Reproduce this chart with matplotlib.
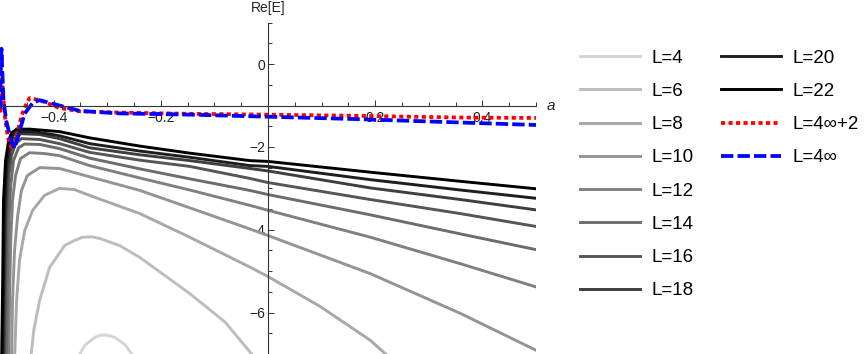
#Recreation of the Re[E] vs a chart for several L values.

#importing all libraries which will be used.
import matplotlib
matplotlib.use("Agg")
import matplotlib.pyplot as plt
from matplotlib.ticker import FixedLocator, MultipleLocator

plt.rcParams['font.family'] = ['Liberation Sans', 'DejaVu Sans']

#Values (a on the x axis, Re[E] on the y axis).
a_L4 = [-0.355, -0.342, -0.323, -0.314, -0.305, -0.295, -0.286, -0.267, -0.249]
E_L4 = [-7.10, -6.79, -6.60, -6.55, -6.54, -6.56, -6.60, -6.77, -7.10]

a_L6 = [-0.443, -0.437, -0.426, -0.4075, -0.3794, -0.361, -0.346, -0.329, -0.314, -0.277, -0.239, -0.146, -0.080, -0.024]
E_L6 = [-7.15, -6.43, -5.70, -4.91, -4.38, -4.26, -4.18, -4.17, -4.21, -4.38, -4.67, -5.54, -6.23, -7.10]

a_L8 = [-0.4729, -0.469, -0.4636, -0.454, -0.439, -0.417, -0.389, -0.361, -0.333, -0.239, -0.146, -0.034, 0.0, 0.097, 0.191, 0.228]
E_L8 = [-7.15, -5.70, -4.74, -4.02, -3.53, -3.17, -3.00, -3.03, -3.17, -3.61, -4.18, -4.90, -5.13, -5.85, -6.67, -7.10]

a_L10 = [-0.4785, -0.4766, -0.4729, -0.467, -0.460, -0.449, -0.426, -0.389, -0.333, -0.239, -0.146, -0.034, 0.0, 0.191, 0.359, 0.5]
E_L10 = [-7.15, -5.70, -4.50, -3.66, -3.05, -2.69, -2.50, -2.52, -2.72, -3.05, -3.47, -3.98, -4.14, -5.06, -6.02, -6.91]

a_L12 = [-0.484, -0.482, -0.480, -0.4766, -0.471, -0.4617, -0.445, -0.417, -0.389, -0.333, -0.239, -0.146, -0.034, 0.0, 0.191, 0.359, 0.5]
E_L12 = [-7.15, -5.46, -4.26, -3.29, -2.69, -2.28, -2.14, -2.16, -2.21, -2.45, -2.75, -3.04, -3.41, -3.53, -4.18, -4.82, -5.38]

a_L14 = [-0.4879, -0.486, -0.484, -0.480, -0.4748, -0.4654, -0.454, -0.426, -0.389, -0.333, -0.239, -0.146, -0.034, 0.0, 0.191, 0.359, 0.5]
E_L14 = [-7.15, -5.22, -3.90, -2.93, -2.33, -2.02, -1.93, -1.94, -2.04, -2.27, -2.53, -2.77, -3.05, -3.15, -3.64, -4.10, -4.48]

a_L16 = [-0.4916, -0.4897, -0.4879, -0.484, -0.4785, -0.471, -0.460, -0.426, -0.389, -0.333, -0.239, -0.146, -0.034, 0.0, 0.191, 0.359, 0.5]
E_L16 = [-7.15, -5.22, -3.78, -2.76, -2.21, -1.92, -1.80, -1.82, -1.92, -2.13, -2.32, -2.47, -2.76, -2.86, -3.27, -3.61, -3.92]

a_L18 = [-0.4935, -0.4916, -0.4897, -0.486, -0.480, -0.4729, -0.4617, -0.426, -0.389, -0.333, -0.239, -0.146, -0.034, 0.0, 0.191, 0.359, 0.5]
E_L18 = [-7.15, -5.22, -3.66, -2.57, -2.04, -1.80, -1.68, -1.70, -1.80, -2.02, -2.19, -2.33, -2.52, -2.58, -2.99, -3.27, -3.52]

a_L20 = [-0.495, -0.4935, -0.4916, -0.4879, -0.482, -0.4748, -0.4654, -0.4355, -0.389, -0.333, -0.239, -0.146, -0.034, 0.0, 0.191, 0.359, 0.5]
E_L20 = [-7.15, -5.22, -3.53, -2.45, -1.92, -1.70, -1.63, -1.63, -1.73, -1.92, -2.10, -2.25, -2.45, -2.47, -2.79, -3.04, -3.24]

a_L22 = [-0.497, -0.495, -0.4935, -0.4897, -0.484, -0.4785, -0.469, -0.445, -0.389, -0.333, -0.239, -0.146, -0.034, 0.0, 0.191, 0.359, 0.5]
E_L22 = [-7.15, -5.22, -3.29, -2.33, -1.85, -1.66, -1.57, -1.57, -1.63, -1.78, -1.98, -2.15, -2.33, -2.35, -2.61, -2.83, -3.01]

a_inf2 = [-0.5, -0.4981, -0.4966, -0.4953, -0.4916, -0.4854, -0.4791, -0.4729, -0.4667, -0.4598, -0.4542, -0.4449, -0.426, -0.389, -0.351, -0.277, -0.146, 0.0, 0.172, 0.359, 0.5]
E_inf2 = [-1.17, -0.52, -0.21, -0.52, -1.20, -1.77, -2.01, -1.90, -1.61, -1.25, -1.05, -0.82, -0.87, -1.06, -1.14, -1.17, -1.20, -1.22, -1.25, -1.29, -1.30]

a_inf = [-0.5, -0.4985, -0.4972, -0.4957, -0.4935, -0.4884, -0.4791, -0.4729, -0.4667, -0.4542, -0.4387, -0.426, -0.389, -0.351, -0.277, -0.146, 0.0, 0.172, 0.359, 0.5]
E_inf = [-1.08, -0.16, 0.37, -0.16, -0.88, -1.37, -1.85, -2.04, -1.77, -1.20, -0.93, -0.87, -1.00, -1.13, -1.19, -1.22, -1.27, -1.33, -1.41, -1.47]

labels = ["L=4", "L=6", "L=8", "L=10", "L=12", "L=14", "L=16", "L=18", "L=20", "L=22"]
grays = ["#d4d4d4", "#bdbdbd", "#a8a8a8", "#949494", "#808080", "#6c6c6c", "#565656", "#3e3e3e", "#1e1e1e", "#000000"]
a_list = [a_L4, a_L6, a_L8, a_L10, a_L12, a_L14, a_L16, a_L18, a_L20, a_L22]
E_list = [E_L4, E_L6, E_L8, E_L10, E_L12, E_L14, E_L16, E_L18, E_L20, E_L22]

fig = plt.figure(figsize=(8.67, 3.54), dpi=100)
ax = fig.add_axes([0, 0, 536 / 867, (354 - 22.7) / 354])
ax.set_xlim(-0.5, 0.5)
ax.set_ylim(-7, 1)

handles = []
for a, E, c, lab in zip(a_list, E_list, grays, labels):
    line, = ax.plot(a, E, color=c, lw=2.1, label=lab, solid_joinstyle='round')
    handles.append(line)

#the two limit curves
red, = ax.plot(a_inf2, E_inf2, color="#ff0000", lw=2.7, linestyle=(0, (1.1, 0.9)),
               dash_capstyle='butt', label="L=4\u221e+2")
blue, = ax.plot(a_inf, E_inf, color="#0000ff", lw=2.7, linestyle=(0, (3.3, 1.1)),
                dash_capstyle='butt', label="L=4\u221e")
handles.append(red)
handles.append(blue)

#axes drawn through the data like Mathematica does
ax.spines['top'].set_visible(False)
ax.spines['right'].set_visible(False)
ax.spines['left'].set_position(('data', 0))
ax.spines['bottom'].set_position(('data', -1))
for s in ['left', 'bottom']:
    ax.spines[s].set_color('#333333')
    ax.spines[s].set_linewidth(0.8)

ax.xaxis.set_major_locator(FixedLocator([-0.4, -0.2, 0.2, 0.4]))
ax.xaxis.set_minor_locator(MultipleLocator(0.05))
ax.yaxis.set_major_locator(FixedLocator([-6, -4, -2, 0]))
ax.yaxis.set_minor_locator(MultipleLocator(0.5))
ax.tick_params(which='both', direction='in', color='#333333', width=0.7, labelsize=10, labelcolor='#222222')
ax.tick_params(which='major', length=4.5)
ax.tick_params(which='minor', length=3)
ax.tick_params(axis='x', pad=4)
ax.tick_params(axis='y', pad=2)
ax.patch.set_alpha(0)

fig.text(268 / 867, 1 - 8 / 354, "Re[E]", ha='center', va='center', fontsize=10, color='#222222')
fig.text(551 / 867, 1 - 106 / 354, "a", ha='center', va='center', fontsize=11, style='italic', color='#222222')

#legend in two columns
leg_kw = dict(loc='upper left', frameon=False, fontsize=13.5, handlelength=3.2,
              handletextpad=0.6, labelspacing=0.86, borderpad=0, borderaxespad=0)
fig.legend(handles[:8], [h.get_label() for h in handles[:8]],
           bbox_to_anchor=(580 / 867, 1 - 49.5 / 354), **leg_kw)
fig.legend(handles[8:], [h.get_label() for h in handles[8:]],
           bbox_to_anchor=(721 / 867, 1 - 49.5 / 354), **leg_kw)

fig.savefig("out.png", dpi=100)
